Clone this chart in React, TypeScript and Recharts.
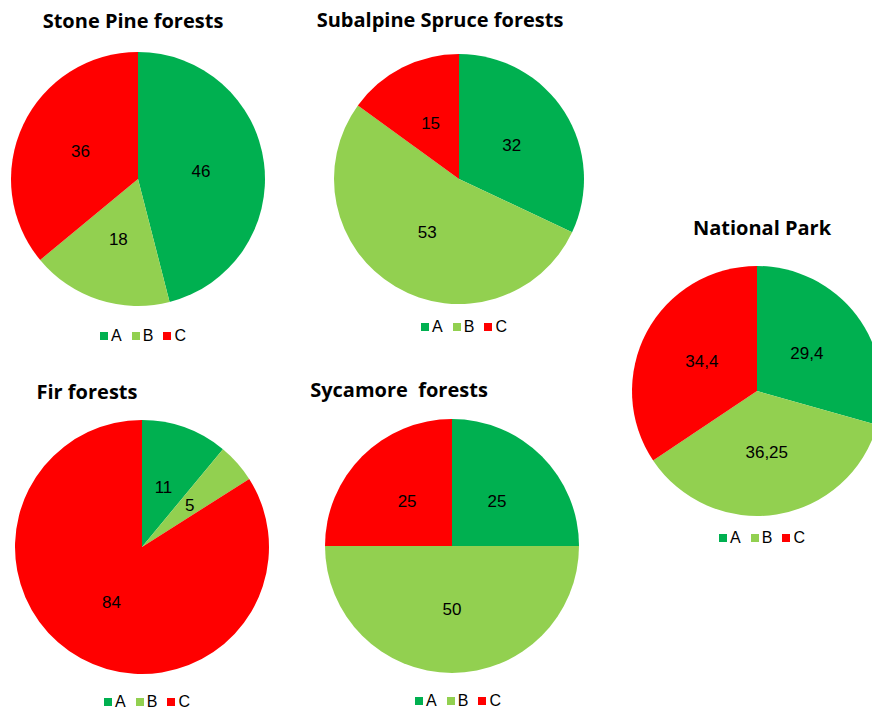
import { PieChart, Pie, Cell } from "recharts";

// category names and colours
const categories = ["A", "B", "C"];
const sliceColors = ["#00B050", "#92D050", "#FF0000"];

// values per forest type (%)
const stonePine = [46, 18, 36];
const subalpineSpruce = [32, 53, 15];
const fir = [11, 5, 84];
const sycamore = [25, 50, 25];
const nationalPark = [29.4, 36.25, 34.4];

const RAD = Math.PI / 180;
const FONT = "'Liberation Sans', Arial, sans-serif";

const renderLabel = (props: any) => {
  const { cx, cy, midAngle, outerRadius, value } = props;
  const r = outerRadius * 0.5;
  const x = cx + r * Math.cos(-midAngle * RAD);
  const y = cy + r * Math.sin(-midAngle * RAD);
  return (
    <text
      x={x}
      y={y}
      fill="#000"
      fontSize={17}
      fontFamily={FONT}
      textAnchor="middle"
      dominantBaseline="central"
    >
      {String(value).replace(".", ",")}
    </text>
  );
};

interface PanelProps {
  title: string;
  values: number[];
  cx: number;
  cy: number;
  r: number;
  titleX: number;
  titleY: number;
  legendX: number;
  legendY: number;
}

function PiePanel({
  title,
  values,
  cx,
  cy,
  r,
  titleX,
  titleY,
  legendX,
  legendY,
}: PanelProps) {
  const data = categories.map((c, i) => ({ name: c, value: values[i] }));
  const size = 300;
  return (
    <>
      <div
        style={{
          position: "absolute",
          left: titleX - 200,
          top: titleY - 14,
          width: 400,
          textAlign: "center",
          fontFamily: "'Open Sans', sans-serif",
          fontWeight: 700,
          fontSize: 20,
          lineHeight: "28px",
          color: "#000",
          whiteSpace: "pre",
        }}
      >
        {title}
      </div>
      <div style={{ position: "absolute", left: cx - size / 2, top: cy - size / 2 }}>
        <PieChart width={size} height={size}>
          <Pie
            data={data}
            dataKey="value"
            cx="50%"
            cy="50%"
            outerRadius={r}
            startAngle={90}
            endAngle={-270}
            stroke="none"
            label={renderLabel}
            labelLine={false}
            isAnimationActive={false}
          >
            {data.map((_d, i) => (
              <Cell key={`cell-${i}`} fill={sliceColors[i]} />
            ))}
          </Pie>
        </PieChart>
      </div>
      <div
        style={{
          position: "absolute",
          left: legendX - 100,
          top: legendY - 10,
          width: 200,
          height: 20,
          display: "flex",
          justifyContent: "center",
          alignItems: "center",
          gap: 10,
          fontFamily: FONT,
          fontSize: 16,
          color: "#000",
        }}
      >
        {categories.map((c, i) => (
          <div key={c} style={{ display: "flex", alignItems: "center", gap: 3 }}>
            <div style={{ width: 8, height: 8, background: sliceColors[i] }} />
            <span>{c}</span>
          </div>
        ))}
      </div>
    </>
  );
}

export default function App() {
  return (
    <div
      style={{
        position: "absolute",
        left: 0,
        top: 0,
        width: 872,
        height: 713,
        overflow: "hidden",
        background: "#fff",
      }}
    >
      <PiePanel title="Stone Pine forests" values={stonePine} cx={138} cy={179} r={127}
        titleX={133} titleY={21} legendX={143} legendY={336} />
      <PiePanel title="Subalpine Spruce forests" values={subalpineSpruce} cx={459} cy={179} r={125}
        titleX={440} titleY={20} legendX={464} legendY={327} />
      <PiePanel title="National Park" values={nationalPark} cx={757} cy={391} r={125}
        titleX={762} titleY={228} legendX={762} legendY={538} />
      <PiePanel title="Fir forests" values={fir} cx={142} cy={547} r={127}
        titleX={87} titleY={392} legendX={147} legendY={702} />
      <PiePanel title="Sycamore  forests" values={sycamore} cx={452} cy={546} r={127}
        titleX={399} titleY={390} legendX={458} legendY={701} />
    </div>
  );
}
